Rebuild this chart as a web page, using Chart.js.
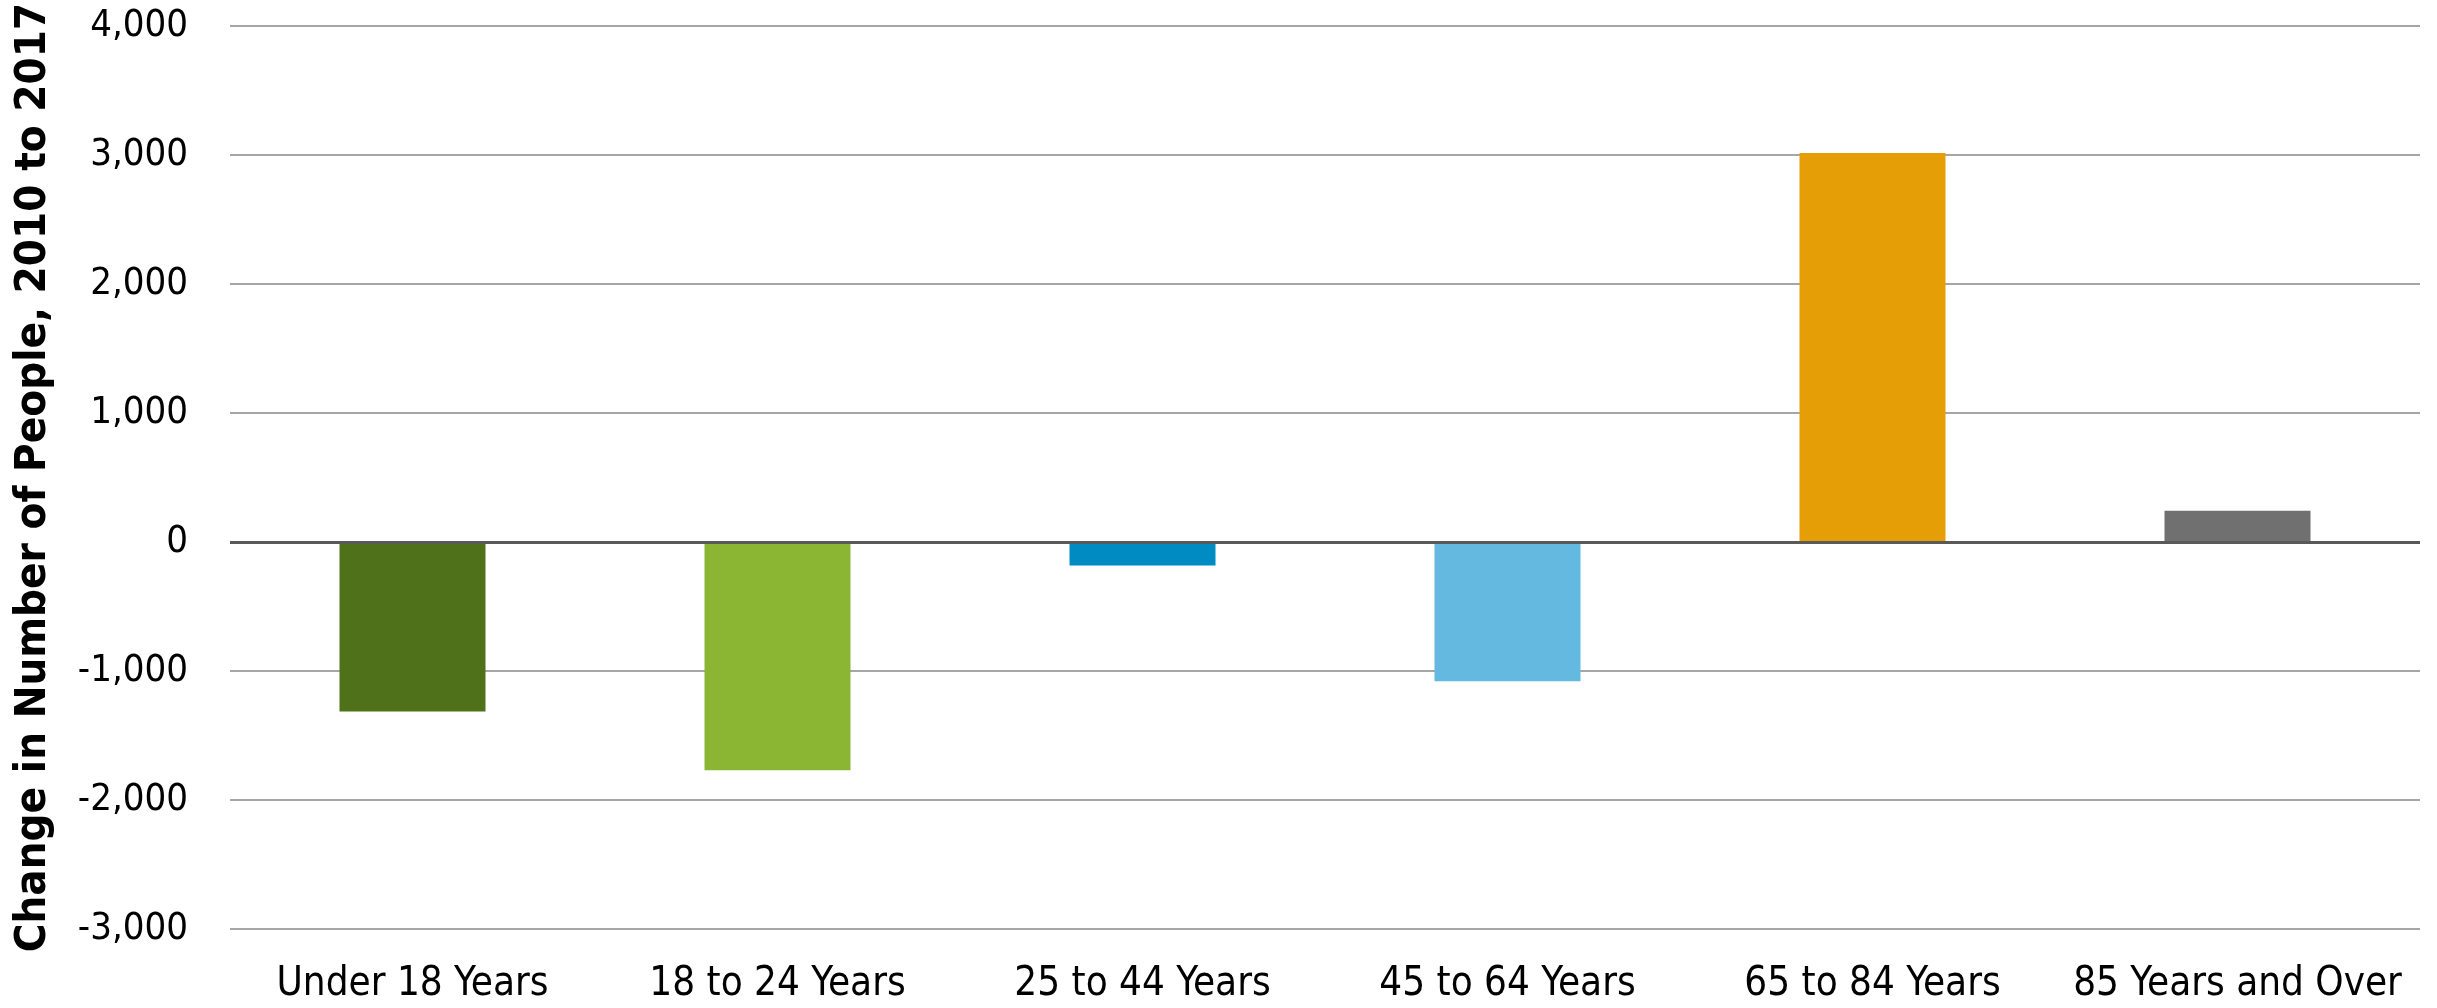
<!DOCTYPE html>
<html>
<head>
<meta charset="utf-8">
<script src="https://cdn.jsdelivr.net/npm/chart.js@4/dist/chart.umd.min.js"></script>
<style>
  html, body { margin: 0; padding: 0; background: #ffffff; }
  #chart { display: block; }
</style>
</head>
<body>
<canvas id="chart" width="2437" height="1008"></canvas>
<script>
// Population change by age group, 2010 to 2017
const categories = ['Under 18 Years', '18 to 24 Years', '25 to 44 Years', '45 to 64 Years', '65 to 84 Years', '85 Years and Over'];
const changeValues = [-1314, -1770, -183, -1080, 3015, 242];
const barColors = ['#4F7119', '#8BB634', '#008CC2', '#63B9DF', '#E69E06', '#707070'];
const yTickValues = [-3000, -2000, -1000, 0, 1000, 2000, 3000, 4000];
const yTitle = 'Change in Number of People, 2010 to 2017';

const FONT = '"DejaVu Sans Condensed", Tahoma, "DejaVu Sans", sans-serif';

// Redraw the zero baseline on top of the bars
const zeroLinePlugin = {
  id: 'zeroLine',
  afterDatasetsDraw(chart) {
    const y = chart.scales.y;
    const area = chart.chartArea;
    const py = Math.round(y.getPixelForValue(0)) + 0.5;
    const ctx = chart.ctx;
    ctx.save();
    ctx.strokeStyle = '#595959';
    ctx.lineWidth = 3;
    ctx.beginPath();
    ctx.moveTo(area.left, py);
    ctx.lineTo(area.right, py);
    ctx.stroke();
    ctx.restore();
  }
};

new Chart(document.getElementById('chart'), {
  type: 'bar',
  data: {
    labels: categories,
    datasets: [{
      data: changeValues,
      backgroundColor: barColors,
      borderWidth: 0,
      barPercentage: 1,
      categoryPercentage: 0.4
    }]
  },
  options: {
    responsive: false,
    animation: false,
    devicePixelRatio: 1,
    layout: { padding: { top: 26, right: 17, bottom: 0, left: 0 } },
    plugins: {
      legend: { display: false },
      tooltip: { enabled: false }
    },
    scales: {
      x: {
        grid: { display: false, drawTicks: false },
        border: { display: false },
        ticks: {
          color: '#000000',
          padding: 32,
          maxRotation: 0,
          autoSkip: false,
          font: { family: FONT, size: 40 }
        },
        afterFit(scale) {
          scale.height = 79;
          scale.paddingLeft = 0;
          scale.paddingRight = 0;
        }
      },
      y: {
        min: -3000,
        max: 4000,
        afterBuildTicks(scale) {
          scale.ticks = yTickValues.map(v => ({ value: v }));
        },
        grid: {
          drawTicks: false,
          color: ctx => (ctx.tick && ctx.tick.value === 0) ? '#595959' : '#A6A6A6',
          lineWidth: 2
        },
        border: { display: false },
        ticks: {
          color: '#000000',
          padding: 42,
          font: { family: FONT, size: 38 },
          callback: v => Number(v).toLocaleString('en-US')
        },
        title: {
          display: true,
          text: yTitle,
          color: '#000000',
          padding: { top: 8, bottom: 0 },
          font: { family: FONT, size: 43.5, weight: 'bold' }
        },
        afterFit(scale) {
          scale.width = 230;
          scale.paddingTop = 0;
          scale.paddingBottom = 0;
        }
      }
    }
  },
  plugins: [zeroLinePlugin]
});
</script>
</body>
</html>
